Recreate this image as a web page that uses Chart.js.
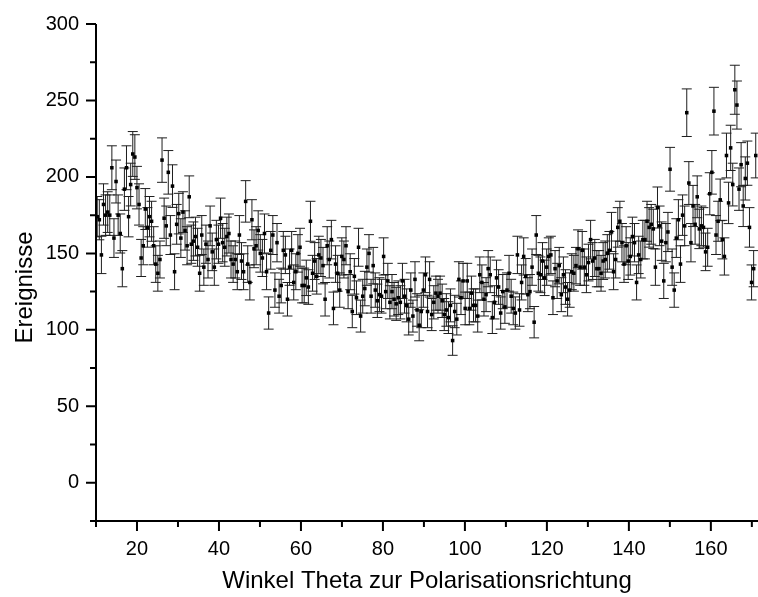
<!DOCTYPE html>
<html>
<head>
<meta charset="utf-8">
<script src="https://cdn.jsdelivr.net/npm/chart.js@4.4.1/dist/chart.umd.min.js"></script>
<style>
  body { margin: 0; background: #fff; }
  #wrap { width: 758px; height: 597px; position: relative; }
</style>
</head>
<body>
<div id="wrap"><canvas id="polChart"></canvas></div>
<script>
// Winkelbins: erster Winkel und Schrittweite in Grad
const thetaStart = 10.3;
const thetaStep = 0.51;

// Ereignisse pro Winkelbin, Fehler = sqrt(N)
const counts = [
  174, 172, 149, 182, 175, 177, 175, 206, 160, 197, 175, 163, 140, 192, 206, 174, 195, 215, 213, 193,
  182, 147, 155, 179, 167, 174, 171, 155, 143, 137, 146, 211, 173, 168, 203, 162, 194, 138, 169, 176,
  160, 177, 165, 155, 187, 156, 158, 161, 154, 137, 162, 141, 156,
  146, 168, 151, 141, 159, 156, 173, 157, 154, 161, 163, 146, 143, 146, 138, 162, 145, 138, 184, 143,
  131, 172, 153, 155, 165, 150, 147, 163, 138, 111, 152, 162, 126, 157, 122, 129, 152, 149, 120, 141,
  152, 131, 138, 150, 154, 129, 129, 134, 128, 171, 137, 145, 135,
  149, 147, 142, 120, 155, 146, 159, 114, 143, 137, 126, 148, 146, 155, 125, 138, 112, 135, 121, 154,
  109, 122, 127, 141, 150, 122, 142, 126, 119, 123, 122, 148, 125, 132, 118, 125, 120, 117, 121, 118,
  132, 122, 116, 107, 126, 109, 133, 113, 103, 112, 126, 136,
  112, 133, 110, 118, 124, 122, 124, 119, 110, 113, 108, 116, 93, 112, 107, 133, 121, 132, 114, 132,
  114, 124, 116, 116, 109, 136, 131, 120, 123, 140, 136, 108, 118, 134, 128, 111, 125, 115, 126, 137,
  122, 114, 111, 149, 113, 131, 148, 135, 123, 125, 141, 105, 162,
  137, 136, 145, 134, 141, 148, 149, 121, 140, 132, 142, 123, 136, 128, 120, 126, 138, 137, 142, 153,
  141, 152, 141, 136, 144, 159, 145, 147, 140, 140, 137, 145, 146, 150, 152, 164, 138, 146, 167, 171,
  157, 143, 155, 145, 148, 161, 157, 131, 149, 146, 159,
  159, 171, 167, 169, 166, 141, 180, 168, 158, 132, 157, 164, 205, 141, 126, 160, 172, 143, 175, 168,
  242, 196, 157, 181, 169, 187, 166, 168, 167, 151, 154, 189, 203, 243, 162, 171, 185, 159, 148, 214,
  183, 219, 195, 257, 247, 192, 208, 181, 199, 209, 167, 131, 140, 214
];

const xTicks = [20, 40, 60, 80, 100, 120, 140, 160];
const xMinorTicks = [10, 30, 50, 70, 90, 110, 130, 150, 170];
const yTicks = [0, 50, 100, 150, 200, 250, 300];
const yMinorTicks = [-25, 25, 75, 125, 175, 225, 275];

const fontFamily = "'Liberation Sans', Arial, sans-serif";

let points = [];
for (let i = 0; i < counts.length; i++) {
  points.push({ x: thetaStart + i * thetaStep, y: counts[i] });
}

// Fehlerbalken mit Querstrichen, unter den Punkten gezeichnet
const errorBars = {
  id: 'errorBars',
  beforeDatasetsDraw(chart) {
    const ctx = chart.ctx;
    const xs = chart.scales.x, ys = chart.scales.y, a = chart.chartArea;
    ctx.save();
    ctx.beginPath();
    ctx.rect(a.left, a.top, a.right - a.left, a.bottom - a.top);
    ctx.clip();
    ctx.strokeStyle = '#1e1e1e';
    ctx.lineWidth = 1;
    ctx.beginPath();
    points.forEach(p => {
      const err = Math.sqrt(p.y);
      const px = xs.getPixelForValue(p.x);
      const top = ys.getPixelForValue(p.y + err);
      const bot = ys.getPixelForValue(p.y - err);
      ctx.moveTo(px, top); ctx.lineTo(px, bot);
      ctx.moveTo(px - 5, top); ctx.lineTo(px + 5, top);
      ctx.moveTo(px - 5, bot); ctx.lineTo(px + 5, bot);
    });
    ctx.stroke();
    ctx.restore();
  }
};

// Achsenlinien, Haupt- und Nebenticks nach aussen, y-Titel
const axisFrame = {
  id: 'axisFrame',
  afterDatasetsDraw(chart) {
    const ctx = chart.ctx;
    const xs = chart.scales.x, ys = chart.scales.y, a = chart.chartArea;
    ctx.save();
    ctx.strokeStyle = '#000';
    ctx.lineWidth = 2;
    ctx.beginPath();
    ctx.moveTo(a.left, a.top);
    ctx.lineTo(a.left, a.bottom + 1);
    ctx.moveTo(a.left - 1, a.bottom);
    ctx.lineTo(a.right, a.bottom);
    xTicks.forEach(v => {
      const px = xs.getPixelForValue(v);
      ctx.moveTo(px, a.bottom); ctx.lineTo(px, a.bottom + 10);
    });
    xMinorTicks.forEach(v => {
      const px = xs.getPixelForValue(v);
      ctx.moveTo(px, a.bottom); ctx.lineTo(px, a.bottom + 6);
    });
    yTicks.forEach(v => {
      const py = ys.getPixelForValue(v);
      ctx.moveTo(a.left, py); ctx.lineTo(a.left - 10, py);
    });
    yMinorTicks.forEach(v => {
      const py = ys.getPixelForValue(v);
      ctx.moveTo(a.left, py); ctx.lineTo(a.left - 6, py);
    });
    ctx.stroke();

    ctx.fillStyle = '#000';
    ctx.font = '24px ' + fontFamily;
    ctx.textAlign = 'center';
    ctx.textBaseline = 'middle';
    ctx.translate(25, (a.top + a.bottom) / 2 + 15);
    ctx.rotate(-Math.PI / 2);
    ctx.fillText('Ereignisse', 0, 0);
    ctx.restore();
  }
};

const ctx = document.getElementById('polChart').getContext('2d');
const chart = new Chart(ctx, {
  type: 'scatter',
  data: {
    datasets: [{
      label: 'Ereignisse',
      data: points,
      pointStyle: 'rect',
      pointRadius: 2.5,
      pointBorderWidth: 0,
      backgroundColor: '#000',
      borderColor: '#000',
      showLine: false
    }]
  },
  options: {
    responsive: true,
    maintainAspectRatio: false,
    animation: false,
    layout: { autoPadding: false, padding: { top: 24, right: 0, left: 0, bottom: 0 } },
    plugins: {
      legend: { display: false },
      tooltip: { enabled: false }
    },
    scales: {
      x: {
        type: 'linear',
        min: 10,
        max: 171.5,
        grid: { display: false, drawTicks: false },
        border: { display: false },
        afterBuildTicks: s => { s.ticks = xTicks.map(v => ({ value: v })); },
        afterFit: s => { s.height = 76; s.paddingLeft = 0; s.paddingRight = 0; },
        ticks: { padding: 16, color: '#000', font: { family: fontFamily, size: 20 } },
        title: {
          display: true,
          text: 'Winkel Theta zur Polarisationsrichtung',
          color: '#000',
          font: { family: fontFamily, size: 24 },
          padding: { top: 0, bottom: 1 }
        }
      },
      y: {
        type: 'linear',
        min: -25,
        max: 300,
        grid: { display: false, drawTicks: false },
        border: { display: false },
        afterBuildTicks: s => { s.ticks = yTicks.map(v => ({ value: v })); },
        afterFit: s => { s.width = 96; s.paddingTop = 0; s.paddingBottom = 0; },
        ticks: { padding: 17, color: '#000', font: { family: fontFamily, size: 20 } }
      }
    }
  },
  plugins: [errorBars, axisFrame]
});
</script>
</body>
</html>
